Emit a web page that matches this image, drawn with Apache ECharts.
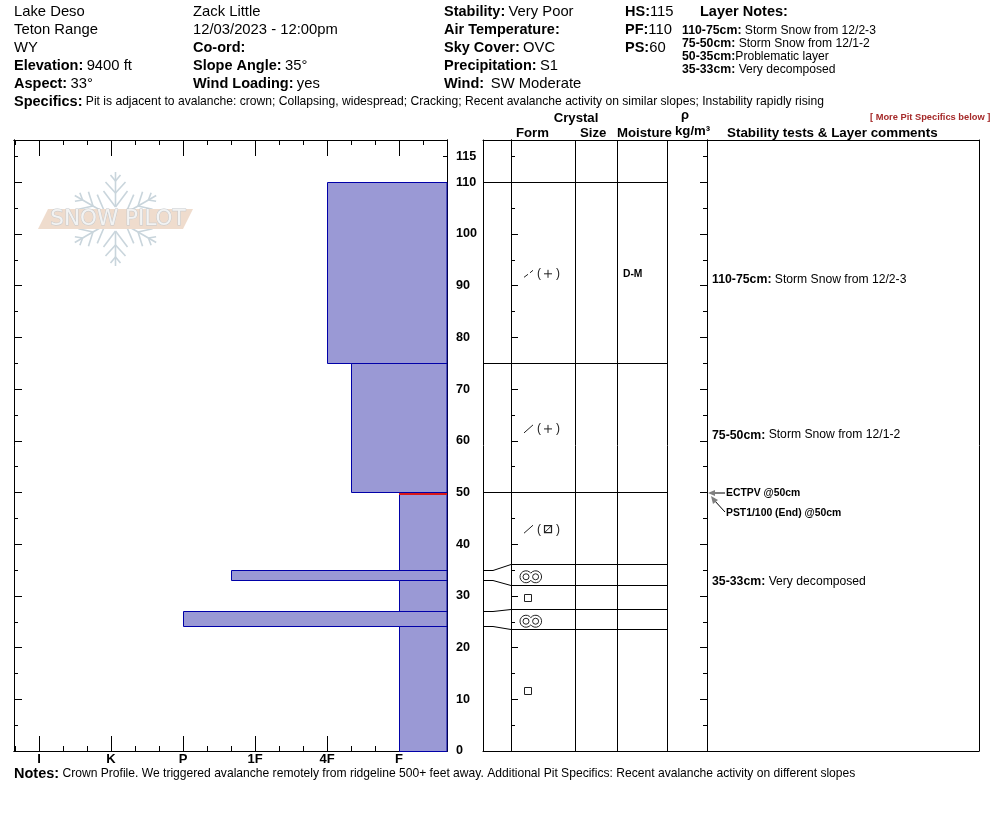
<!DOCTYPE html>
<html><head><meta charset="utf-8">
<style>html,body{margin:0;padding:0;background:#fff}#c{width:994px;height:840px}</style>
<script src="https://cdn.jsdelivr.net/npm/echarts@6/dist/echarts.min.js"></script>
</head><body><div id="c"></div>
<script>
// ---------- data ----------
const hardnessLabels = ['I','K','P','1F','4F','F'];
const hardnessValues = [1,4,7,10,13,16];
const hardnessAll = [0,1,2,3,4,5,6,7,8,9,10,11,12,13,14,15,16,17,18];
const depthLabels = [0,10,20,30,40,50,60,70,80,90,100,110,115];
const depthMinor = [5,15,25,35,45,55,65,75,85,95,105,115];
const layerTop = [110,75,50,35,33,27,24];
const layerBottom = [75,50,35,33,27,24,0];
const layerHardness = [13,14,16,9,16,7,16];
const criticalDepth = 50;
const edgeDepths = [110,75,50,35,33,27,24];
const edgeDisplayDepths = [110,75,50,36,32,27.4,23.5];
const formDepths = [92.3,62.3,42.9,33.7,29.6,25.1,11.6];
const formKinds = ['ddf','fc','fcx','dh','sq','dh','sq'];
const moisture = [['D-M',92.5]];
const commentDepths = [91.1,61.1,32.8];
const commentBold = ['110-75cm:','75-50cm:','35-33cm:'];
const commentText = ['Storm Snow from 12/2-3','Storm Snow from 12/1-2','Very decomposed'];

// ---------- layout ----------
const PT=140, PB=751, YMAX=(751-140)/5.17;
const FONT='"Liberation Sans",Arial,sans-serif';
const colEdges=[511,575,617,667,707];      // page x of the table's column rules
const L0=14,R0=447,L1=483,R1=979,TICKC='#000';
const crisp=v=>Math.floor(v+0.01)+.5;
const LINE={stroke:'#000',lineWidth:1,fill:null};

const grids=[
 {left:L0,top:PT,width:R0-L0,height:PB-PT},
 {left:L1,top:PT,width:R1-L1,height:PB-PT},
 {left:511,top:PT,width:196,height:PB-PT}
];
const axLine={show:true,onZero:false,lineStyle:{color:'#000',width:1}};
function xAx(g,pos,tickVals,len,labels,range){
 const a={gridIndex:g,type:'value',position:pos,min:range[0],max:range[1],splitLine:{show:false},
  axisLine:axLine,
  axisTick:{show:!!tickVals,inside:true,length:len,customValues:tickVals||undefined,lineStyle:{color:TICKC,width:1}},
  axisLabel:{show:false}};
 if(labels){a.axisLabel={show:true,customValues:hardnessValues,margin:2,color:'#000',fontFamily:FONT,fontWeight:'bold',fontSize:13,
   formatter:v=>hardnessLabels[hardnessValues.indexOf(v)]};}
 return a;
}
function yAx(g,pos,tickVals,len,labels){
 const a={gridIndex:g,type:'value',position:pos,min:0,max:YMAX,splitLine:{show:false},
  axisLine:axLine,
  axisTick:{show:!!tickVals,inside:true,length:len,customValues:tickVals||undefined,lineStyle:{color:TICKC,width:1}},
  axisLabel:{show:false}};
 if(labels){a.axisLabel={show:true,customValues:depthLabels,margin:9,align:'left',color:'#000',fontFamily:FONT,fontWeight:'bold',fontSize:12.6,
   formatter:v=>String(v)};}
 return a;
}
const HR=[-1/24,18], TR=[L1,R1], MR=[0,1];
const xAxes=[
 xAx(0,'bottom',hardnessValues,15,true,HR),   //0
 xAx(0,'bottom',hardnessAll,5,false,HR),      //1
 xAx(0,'top',hardnessValues,16,false,HR),     //2
 xAx(0,'top',hardnessAll,5,false,HR),         //3
 xAx(1,'bottom',null,0,false,TR),             //4
 xAx(1,'top',null,0,false,TR),                //5
 xAx(2,'bottom',null,0,false,MR)              //6
];
const majors=depthLabels.filter(v=>v%10===0);
const yAxes=[
 yAx(0,'left',majors,8),        //0
 yAx(0,'left',depthMinor,4),    //1
 yAx(0,'right',majors,7,true),  //2
 yAx(0,'right',depthMinor,4),   //3
 yAx(1,'left',null,0),          //4
 yAx(1,'right',null,0),         //5
 yAx(2,'left',majors,7),        //6
 yAx(2,'left',depthMinor,4),    //7
 yAx(2,'right',majors,7),       //8
 yAx(2,'right',depthMinor,4)    //9
];

// ---------- series ----------
const layerRows=layerTop.map((t,i)=>[layerHardness[i],18,t,layerBottom[i]]);
const layerSeries={type:'custom',coordinateSystem:'cartesian2d',xAxisIndex:0,yAxisIndex:0,z:1,silent:true,clip:false,
 data:layerRows,
 renderItem:(p,api)=>{
  const a=api.coord([api.value(0),api.value(2)]),b=api.coord([api.value(1),api.value(3)]);
  const x=crisp(a[0]),y=crisp(a[1]),h=crisp(b[1])-y;
  return {type:'rect',shape:{x,y,width:b[0]-x,height:h},style:{fill:'#9a99d5',stroke:'#0000a8',lineWidth:1}};
 }};
const criticalSeries={type:'custom',coordinateSystem:'cartesian2d',xAxisIndex:0,yAxisIndex:0,z:2,silent:true,clip:false,
 data:[[16,18,criticalDepth]],
 renderItem:(p,api)=>{
  const a=api.coord([api.value(0),api.value(2)]),b=api.coord([api.value(1),api.value(2)]);
  const y=Math.floor(a[1])+2;
  return {type:'line',shape:{x1:a[0],y1:y,x2:b[0],y2:y},style:{stroke:'#d81818',lineWidth:2}};
 }};
// table rules
const columnSeries={type:'custom',coordinateSystem:'cartesian2d',xAxisIndex:4,yAxisIndex:4,z:3,silent:true,clip:false,
 data:colEdges.map(x=>[x,0,YMAX]),
 renderItem:(p,api)=>{
  const a=api.coord([api.value(0),api.value(1)]),b=api.coord([api.value(0),api.value(2)]);
  const x=crisp(a[0]);
  return {type:'line',shape:{x1:x,y1:a[1],x2:x,y2:b[1]},style:LINE};
 }};
const edgeSeries={type:'custom',coordinateSystem:'cartesian2d',xAxisIndex:4,yAxisIndex:4,z:3,silent:true,clip:false,
 data:edgeDepths.map((d,i)=>[d,edgeDisplayDepths[i]]),
 renderItem:(p,api)=>{
  const y0=crisp(api.coord([L1,api.value(0)])[1]),y1=crisp(api.coord([L1,api.value(1)])[1]);
  const xa=api.coord([L1,0])[0],xb=api.coord([L1+10,0])[0],xc=api.coord([511,0])[0],xd=api.coord([667,0])[0];
  return {type:'polyline',shape:{points:y0===y1?[[xa,y0],[xd,y1]]:[[xa,y0],[xb,y0],[xc,y1],[xd,y1]]},style:LINE};
 }};
function formShape(kind,x,y){
 const ink='#222',S={stroke:ink,lineWidth:1,fill:null},c=[];
 const T=(t,tx,fs)=>({type:'text',style:{text:t,x:tx,y:y,fill:ink,font:(fs||12)+'px '+FONT,textAlign:'center',textVerticalAlign:'middle'}});
 if(kind==='sq'){c.push({type:'rect',shape:{x:x+.5,y:Math.round(y)-3.5,width:7,height:7},style:S});}
 if(kind==='dh'){
  const a=Math.acos(4.8/6),cx1=x,cx2=x+9.6;
  c.push({type:'arc',shape:{cx:cx1,cy:y,r:6,startAngle:a,endAngle:2*Math.PI-a,clockwise:true},style:S});
  c.push({type:'arc',shape:{cx:cx2,cy:y,r:6,startAngle:Math.PI+a,endAngle:3*Math.PI-a,clockwise:true},style:S});
  c.push({type:'circle',shape:{cx:cx1,cy:y,r:3},style:S},{type:'circle',shape:{cx:cx2,cy:y,r:3},style:S});
 }
 if(kind==='ddf'){
  c.push({type:'line',shape:{x1:x,y1:y+3.5,x2:x+4,y2:y+.5},style:S},{type:'line',shape:{x1:x+6,y1:y-1,x2:x+9,y2:y-3.5},style:S});
 }
 if(kind==='fc'||kind==='fcx'){c.push({type:'line',shape:{x1:x,y1:y+4,x2:x+9,y2:y-4},style:S});}
 if(kind==='ddf'||kind==='fc'){
  c.push(T('(',x+15),T(')',x+34));
  c.push({type:'line',shape:{x1:x+20,y1:y,x2:x+28,y2:y},style:S},{type:'line',shape:{x1:x+24,y1:y-4,x2:x+24,y2:y+4},style:S});
 }
 if(kind==='fcx'){
  c.push(T('(',x+15),T(')',x+34));
  c.push({type:'rect',shape:{x:x+20.5,y:y-3.5,width:7,height:7},style:{stroke:ink,lineWidth:1.2,fill:null}});
  c.push({type:'line',shape:{x1:x+20.5,y1:y+3.5,x2:x+27.5,y2:y-3.5},style:S});
 }
 return c;
}
const formSeries={type:'custom',coordinateSystem:'cartesian2d',xAxisIndex:4,yAxisIndex:4,z:4,silent:true,clip:false,
 data:formDepths.map((d,i)=>[524,d]),
 renderItem:(p,api)=>{
  const q=api.coord([api.value(0),api.value(1)]);
  const k=formKinds[p.dataIndex];
  return {type:'group',children:formShape(k,k==='dh'?526:q[0],q[1])};
 }};
const moistureSeries={type:'custom',coordinateSystem:'cartesian2d',xAxisIndex:4,yAxisIndex:4,z:4,silent:true,clip:false,
 data:moisture.map(m=>[623,m[1]]),
 renderItem:(p,api)=>{
  const q=api.coord([api.value(0),api.value(1)]);
  return {type:'text',style:{text:moisture[p.dataIndex][0],x:q[0],y:q[1]+1,fill:'#000',font:'bold 10.3px '+FONT,textVerticalAlign:'middle'}};
 }};
const commentSeries={type:'custom',coordinateSystem:'cartesian2d',xAxisIndex:4,yAxisIndex:4,z:4,silent:true,clip:false,
 data:commentDepths.map(d=>[712,d]),
 renderItem:(p,api)=>{
  const q=api.coord([api.value(0),api.value(1)]),i=p.dataIndex;
  return {type:'text',style:{text:'{b|'+commentBold[i]+'} {r|'+commentText[i]+'}',x:q[0],y:q[1],
   rich:{b:{font:'bold 12.3px '+FONT,fill:'#000'},r:{font:'12.15px '+FONT,fill:'#000'}},textVerticalAlign:'middle'}};
 }};

// ---------- page text ----------
const rich={b:{fontFamily:FONT,fontWeight:'bold',fontSize:14.5,fill:'#000'},
 r:{fontFamily:FONT,fontSize:14.8,fill:'#000'},
 b12:{fontFamily:FONT,fontWeight:'bold',fontSize:12.3,fill:'#000'},
 r12:{fontFamily:FONT,fontSize:12.1,fill:'#000'}};
function t(text,x,y){return {type:'text',x,y,silent:true,z:10,style:{text,rich,verticalAlign:'middle',align:'left'}};}
function p(text,x,y,font,fill,align){return {type:'text',x,y,silent:true,z:10,style:{text,font:font+' '+FONT,fill:fill||'#000',verticalAlign:'middle',align:align||'left'}};}
const texts=[
 t('{r|Lake Deso}',14,12),t('{r|Teton Range}',14,30),t('{r|WY}',14,48),t('{b|Elevation:} {r|9400 ft}',14,66),t('{b|Aspect:} {r|33°}',14,84),
 t('{r|Zack Little}',193,12),t('{r|12/03/2023 - 12:00pm}',193,30),t('{b|Co-ord:}',193,48),t('{b|Slope Angle:} {r|35°}',193,66),t('{b|Wind Loading:} {r|yes}',193,84),
 t('{b|Stability:} {r|Very Poor}',444,12),t('{b|Air Temperature:}',444,30),t('{b|Sky Cover:} {r|OVC}',444,48),t('{b|Precipitation:} {r|S1}',444,66),t('{b|Wind:}  {r|SW Moderate}',444,84),
 t('{b|HS:}{r|115}',625,12),t('{b|PF:}{r|110}',625,30),t('{b|PS:}{r|60}',625,48),
 t('{b|Layer Notes:}',700,12),
 t('{b12|110-75cm:} {r12|Storm Snow from 12/2-3}',682,31),t('{b12|75-50cm:} {r12|Storm Snow from 12/1-2}',682,44),
 t('{b12|50-35cm:}{r12|Problematic layer}',682,57),t('{b12|35-33cm:} {r12|Very decomposed}',682,70),
 t('{b|Specifics:} {r12|Pit is adjacent to avalanche: crown; Collapsing, widespread; Cracking; Recent avalanche activity on similar slopes; Instability rapidly rising}',14,102),
 t('{b|Notes:} {r12|Crown Profile. We triggered avalanche remotely from ridgeline 500+ feet away. Additional Pit Specifics: Recent avalanche activity on different slopes}',14,774),
 p('Crystal',576,118,'bold 13.2px',null,'center'),p('Form',516,133,'bold 13.2px'),p('Size',580,133,'bold 13.2px'),p('Moisture',617,133,'bold 13.2px'),
 p('ρ',685,115,'bold 13px',null,'center'),p('kg/m³',675,131,'bold 13.2px'),p('Stability tests & Layer comments',727,133,'bold 13.4px'),
 p('[ More Pit Specifics below ]',870,117,'bold 9.3px','#a52a2a'),
 p('ECTPV @50cm',726,493,'bold 10.4px'),p('PST1/100 (End) @50cm',726,513,'bold 10.4px')
];
// test pointers
const pointers=[
 {type:'line',silent:true,z:10,shape:{x1:725,y1:493,x2:712,y2:493},style:{stroke:'#000',lineWidth:1}},
 {type:'polygon',silent:true,z:10,shape:{points:[[708,493],[715,490],[715,496]]},style:{fill:'#808080'}},
 {type:'line',silent:true,z:10,shape:{x1:725,y1:512,x2:714,y2:500},style:{stroke:'#000',lineWidth:1}},
 {type:'polygon',silent:true,z:10,shape:{points:[[711,496],[718,500],[713,504]]},style:{fill:'#808080'}}
];
// logo
const fc='#c9d5dc';
function arm(k){
 const L=(x1,y1,x2,y2)=>({type:'line',shape:{x1,y1,x2,y2},style:{stroke:fc,lineWidth:1.6}});
 return {type:'group',x:115.5,y:219,rotation:k*Math.PI/3,silent:true,z:6,children:[
  L(0,-12,0,-47),L(0,-12,-12,-28),L(0,-12,12,-28),L(0,-26,-10,-37),L(0,-26,10,-37),L(0,-38,-5,-44),L(0,-38,5,-44)
 ]};
}
const logo=[0,1,2,3,4,5].map(arm).concat([
 {type:'polygon',silent:true,z:7,shape:{points:[[48,209],[193,209],[183,229],[38,229]]},style:{fill:'#efdccd'}},
 {type:'text',x:118,y:219.5,silent:true,z:8,style:{text:'SNOW PILOT',font:'21.5px "DejaVu Sans"',fill:'#f2f3f3',stroke:'#c4c8cc',lineWidth:.9,align:'center',verticalAlign:'middle'}}
]);

const chart=echarts.init(document.getElementById('c'),null,{renderer:'canvas'});
chart.setOption({animation:false,backgroundColor:'#fff',
 grid:grids,xAxis:xAxes,yAxis:yAxes,
 series:[layerSeries,criticalSeries,columnSeries,edgeSeries,formSeries,moistureSeries,commentSeries],
 graphic:{elements:[].concat(logo,pointers,texts)}
});
</script></body></html>
